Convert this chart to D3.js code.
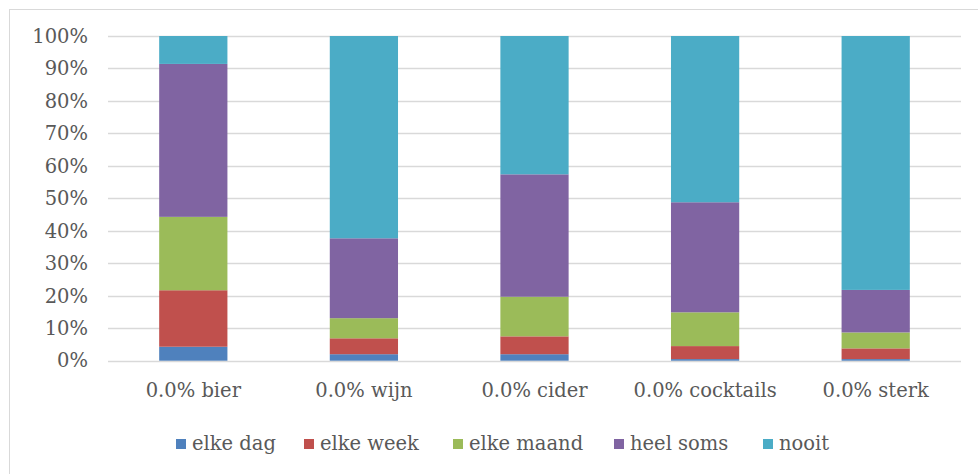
<!DOCTYPE html>
<html>
<head>
<meta charset="utf-8">
<script src="https://cdn.jsdelivr.net/npm/d3@7"></script>
<style>
  html, body { margin: 0; padding: 0; background: #fff; }
  svg { display: block; }
</style>
</head>
<body>
<svg id="chart" width="978" height="474"></svg>
<script>
const categories = ["0.0% bier", "0.0% wijn", "0.0% cider", "0.0% cocktails", "0.0% sterk"];
const seriesNames = ["elke dag", "elke week", "elke maand", "heel soms", "nooit"];
const elkeDag   = [4.3, 2.0, 2.0, 0.5, 0.5];
const elkeWeek  = [17.4, 4.9, 5.5, 4.0, 3.3];
const elkeMaand = [22.6, 6.2, 12.2, 10.4, 4.9];
const heelSoms  = [47.1, 24.6, 37.7, 33.9, 13.1];
const nooit     = [8.6, 62.3, 42.6, 51.2, 78.2];
const yTicks = [0, 10, 20, 30, 40, 50, 60, 70, 80, 90, 100];
const colors = ["#4F81BD", "#C0504D", "#9BBB59", "#8064A2", "#4BACC6"];

const FONT = "'DejaVu Serif', serif";
const seriesValues = [elkeDag, elkeWeek, elkeMaand, heelSoms, nooit];
const rows = categories.map((c, i) => {
  const r = { cat: c };
  seriesNames.forEach((s, j) => r[s] = seriesValues[j][i]);
  return r;
});

const svg = d3.select("#chart");

// chart frame (cropped at right/bottom)
svg.append("rect").attr("x", 9.5).attr("y", 9.5).attr("width", 1000).attr("height", 1000)
  .attr("fill", "none").attr("stroke", "#D9D9D9").attr("stroke-width", 1);

const x = d3.scaleBand().domain(categories).range([108, 961]).paddingInner(0.6).paddingOuter(0.3);
const y = d3.scaleLinear().domain([0, 100]).range([360.7, 36]);

// gridlines
svg.append("g").selectAll("line").data(yTicks).join("line")
  .attr("x1", 108).attr("x2", 961)
  .attr("y1", d => Math.round(y(d)) + 0.5).attr("y2", d => Math.round(y(d)) + 0.5)
  .attr("stroke", "#D9D9D9").attr("stroke-width", 1.3);

// y axis labels
const yAxis = d3.axisLeft(y).tickValues(yTicks).tickFormat(d => d + "%").tickSize(0).tickPadding(0);
const yg = svg.append("g").attr("transform", "translate(88,0)").call(yAxis);
yg.select(".domain").remove();
yg.selectAll("text").style("font-family", FONT).style("font-size", "19.5px").style("fill", "#595959");

// stacked bars
const stack = d3.stack().keys(seriesNames);
const stacked = stack(rows);
svg.append("g").selectAll("g").data(stacked).join("g")
  .attr("fill", (d, i) => colors[i])
  .selectAll("rect").data(d => d).join("rect")
  .attr("x", d => x(d.data.cat))
  .attr("width", x.bandwidth())
  .attr("y", d => y(d[1]))
  .attr("height", d => y(d[0]) - y(d[1]));

// x axis labels
const xAxis = d3.axisBottom(x).tickSize(0).tickPadding(0);
const xg = svg.append("g").attr("transform", "translate(0,383)").call(xAxis);
xg.select(".domain").remove();
xg.selectAll("text").style("font-family", FONT).style("font-size", "19.5px").style("fill", "#595959");

// legend
const legend = svg.append("g");
const legendStarts = [176, 304, 453, 614, 763];
const items = legend.selectAll("g").data(seriesNames).join("g")
  .attr("transform", (d, i) => `translate(${legendStarts[i]},0)`);
items.append("rect").attr("x", 0).attr("y", 439).attr("width", 10).attr("height", 10)
  .attr("fill", (d, i) => colors[i]);
items.append("text").attr("x", 16).attr("y", 450)
  .style("font-family", FONT).style("font-size", "19.5px").style("fill", "#595959")
  .text(d => d);
</script>
</body>
</html>
